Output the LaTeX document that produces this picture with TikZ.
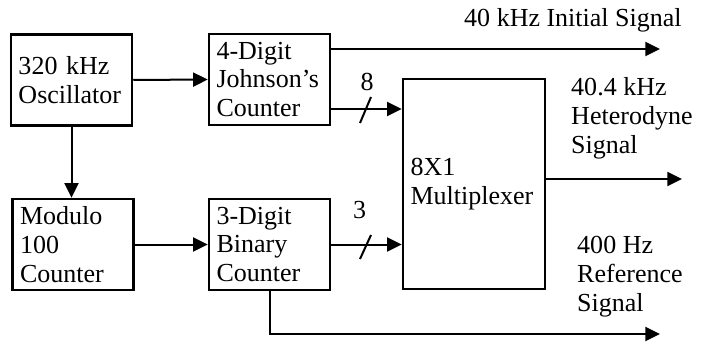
\documentclass[tikz,border=0pt]{standalone}
\usepackage{fontspec}
\setmainfont{Liberation Serif}
\usetikzlibrary{positioning,arrows.meta,calc}

\begin{document}
\begin{tikzpicture}[
  x=0.3mm,y=-0.3mm,
  font=\fontsize{22.2pt}{24.7pt}\selectfont,
  >={Triangle[length=4.4mm,width=4.2mm]},
  blk/.style={draw,line width=0.75mm,minimum width=36.3mm,minimum height=27.3mm,
              text width=31.8mm,inner xsep=2.25mm,inner ysep=0pt,align=left},
  sig/.style={align=left,inner sep=0pt,anchor=west},
  fl/.style={->,line width=0.6mm},
  bus/.style={line width=0.6mm},
]
\useasboundingbox (0,0) rectangle (701,344);

%---------------------------------------------------------------- blocks ---
\node[blk] (osc)  at (71.5,80)   {320 kHz\\Oscillator};
\node[blk] (john) at (269.5,79.5) {4-Digit\\Johnson’s\\Counter};
\node[blk] (mod)  at (73,244.5)  {Modulo\\100\\Counter};
\node[blk] (bin)  at (269.5,244.5) {3-Digit\\Binary\\Counter};
\node[blk,minimum width=42.6mm,minimum height=63mm,text width=38.1mm] (mux)
  at (474,184) {8X1\\Multiplexer};

%--------------------------------------------------------------- signals ---
\coordinate (out1) at (660,49);
\coordinate (out2) at (682,179);
\coordinate (out3) at (660,334);
\coordinate (j8)   at (330,109);
\coordinate (s8)   at (365.5,110);
\coordinate (s3)   at (365.5,247);

\draw[fl] (osc.east) -- (john.west);
\draw[fl] (osc.south) -- (osc.south |- mod.north);
\draw[fl] (mod.east) -- (bin.west);

\draw[fl] (john.east |- out1) -- (out1);
\draw[fl] (j8) -- (j8 -| mux.west);
\draw[fl] (bin.east) -- (bin.east -| mux.west);
\draw[fl] (mux.east |- out2) -- (out2);
\draw[fl] (bin.south) |- (out3);

% bus width marks
\draw[bus] ($(s8)+(-5.5,13)$) -- ($(s8)+(5.5,-13)$);
\draw[bus] ($(s3)+(-5.5,12)$) -- ($(s3)+(5.5,-12)$);
\node (n8) at (367,82) {8};
\node (n3) at (359.5,210) {3};

%---------------------------------------------------------------- labels ---
\node[sig] (l1) at (464,20) {40 kHz Initial Signal};
\node[sig] (l2) at (571,118) {40.4 kHz\\Heterodyne\\Signal};
\node[sig] (l3) at (577,277) {400 Hz\\Reference\\Signal};

\end{tikzpicture}
\end{document}
